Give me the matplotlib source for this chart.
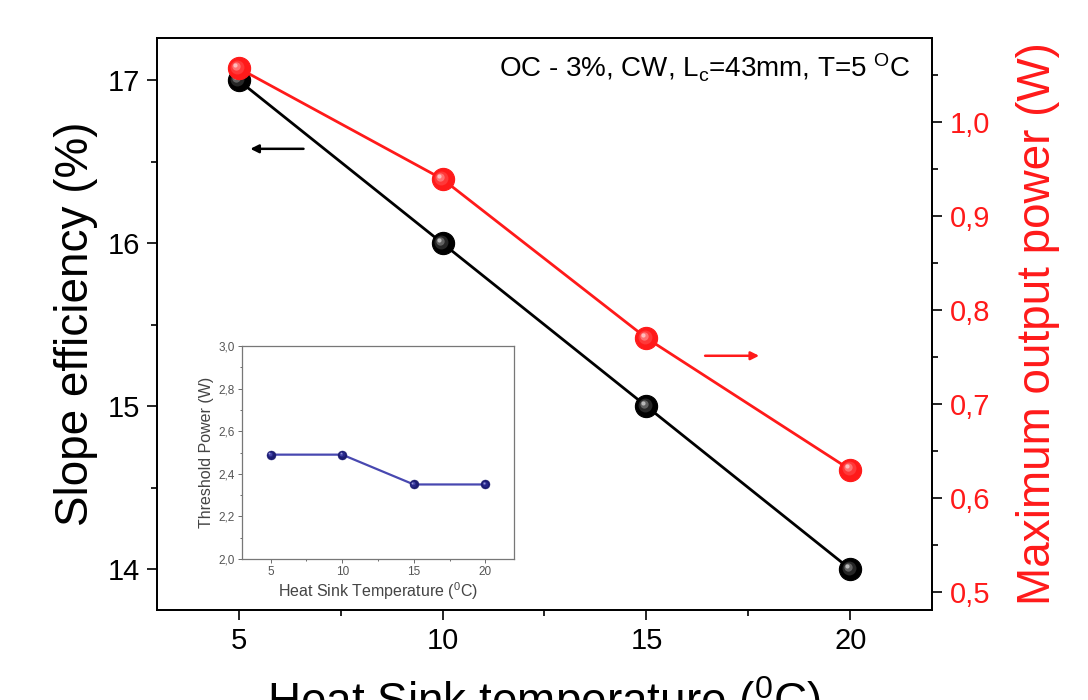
import matplotlib
matplotlib.use("Agg")
import matplotlib.pyplot as plt
from matplotlib.ticker import MultipleLocator, FuncFormatter
import matplotlib.transforms as mtransforms

plt.rcParams['font.family'] = ['Liberation Sans', 'DejaVu Sans']
plt.rcParams['mathtext.fontset'] = 'custom'
plt.rcParams['mathtext.rm'] = 'Liberation Sans'
plt.rcParams['mathtext.it'] = 'Liberation Sans'

temperature = [5, 10, 15, 20]
slope_eff = [17.0, 16.0, 15.0, 14.0]
max_power = [1.057, 0.939, 0.770, 0.630]
threshold = [2.49, 2.49, 2.35, 2.35]

fig = plt.figure(figsize=(10.88, 7.0), dpi=100)
ax = fig.add_axes([0.1443, 0.1286, 0.7123, 0.8171])
ax2 = ax.twinx()

def comma(v, pos):
    return f"{v:.1f}".replace('.', ',')

def balls(a, x, y, base, light, ms=16, lw=2.0, mew=0.8):
    a.plot(x, y, '-', color=base, lw=lw, zorder=2)
    a.plot(x, y, 'o', color=base, ms=ms, mec=base, mew=mew, zorder=3)
    k = ms / 16.0
    for dx, s, c in [(-1.0, 10, light[0]), (-1.8, 6, light[1]), (-2.4, 3, light[2])]:
        tr = a.transData + mtransforms.ScaledTranslation(dx * k / 72, -dx * k / 72, fig.dpi_scale_trans)
        a.plot(x, y, 'o', color=c, ms=s * k, mew=0, transform=tr, zorder=4, alpha=0.8)

balls(ax, temperature, slope_eff, 'black', ['#303030', '#707070', '#d0d0d0'])
balls(ax2, temperature, max_power, '#ff1a1a', ['#ff4040', '#ff8080', '#ffd0d0'])

ax.set_xlim(3, 22)
ax.set_ylim(13.75, 17.26)
ax2.set_ylim(0.481, 1.089)

ax.xaxis.set_major_locator(MultipleLocator(5))
ax.xaxis.set_minor_locator(MultipleLocator(2.5))
ax.yaxis.set_major_locator(MultipleLocator(1))
ax.yaxis.set_minor_locator(MultipleLocator(0.5))
ax2.yaxis.set_major_locator(MultipleLocator(0.1))
ax2.yaxis.set_minor_locator(MultipleLocator(0.05))
ax2.yaxis.set_major_formatter(FuncFormatter(comma))

ax.tick_params(axis='both', which='major', direction='out', length=7, width=1.2, labelsize=21, pad=5)
ax.tick_params(axis='both', which='minor', direction='out', length=4, width=1.2)
ax.tick_params(top=False, which='both')
ax2.tick_params(axis='y', which='major', direction='out', length=7, width=1.2, labelsize=21,
                labelcolor='#ff1a1a', color='black', pad=6)
ax2.tick_params(axis='y', which='minor', direction='out', length=4, width=1.2, color='black')
for a in (ax, ax2):
    for s in a.spines.values():
        s.set_linewidth(1.3)

ax.set_ylabel('Slope efficiency (%)', fontsize=33, labelpad=7)
ax2.set_ylabel('Maximum output power (W)', fontsize=33, color='#ff1a1a', labelpad=18)
ax.set_xlabel('Heat Sink temperature ($^0$C)', fontsize=33, labelpad=14)

ax.text(0.972, 0.948, 'OC - 3%, CW, L$_c$=43mm, T=5 $^O$C', transform=ax.transAxes,
        ha='right', va='center', fontsize=20)

ax.annotate('', xy=(5.22, 16.58), xytext=(6.66, 16.58),
            arrowprops=dict(arrowstyle='-|>', color='black', lw=1.8, mutation_scale=12))
ax.annotate('', xy=(17.83, 15.31), xytext=(16.37, 15.31),
            arrowprops=dict(arrowstyle='-|>', color='#ff1a1a', lw=1.8, mutation_scale=12))

# inset
ins = fig.add_axes([0.2224, 0.2014, 0.25, 0.3043])
balls(ins, temperature, threshold, '#1c1c70', ['#2a2a90', '#5050b0', '#b0b0e0'], ms=6.5, lw=0, mew=0.3)
ins.plot(temperature, threshold, '-', color='#4848b0', lw=1.6, zorder=1)
ins.set_xlim(3, 22)
ins.set_ylim(2.0, 3.0)
ins.xaxis.set_major_locator(MultipleLocator(5))
ins.xaxis.set_minor_locator(MultipleLocator(2.5))
ins.yaxis.set_major_locator(MultipleLocator(0.2))
ins.yaxis.set_minor_locator(MultipleLocator(0.1))
ins.yaxis.set_major_formatter(FuncFormatter(comma))
ins.tick_params(which='both', direction='out', labelsize=8.5, colors='#555555', width=0.6, pad=2)
ins.tick_params(which='major', length=3)
ins.tick_params(which='minor', length=1.5)
for s in ins.spines.values():
    s.set_color('#777777')
    s.set_linewidth(0.9)
ins.set_ylabel('Threshold Power (W)', fontsize=11.5, color='#444444', labelpad=3)
ins.set_xlabel('Heat Sink Temperature ($^0$C)', fontsize=11.5, color='#444444', labelpad=2)

fig.savefig('out.png', dpi=100)
